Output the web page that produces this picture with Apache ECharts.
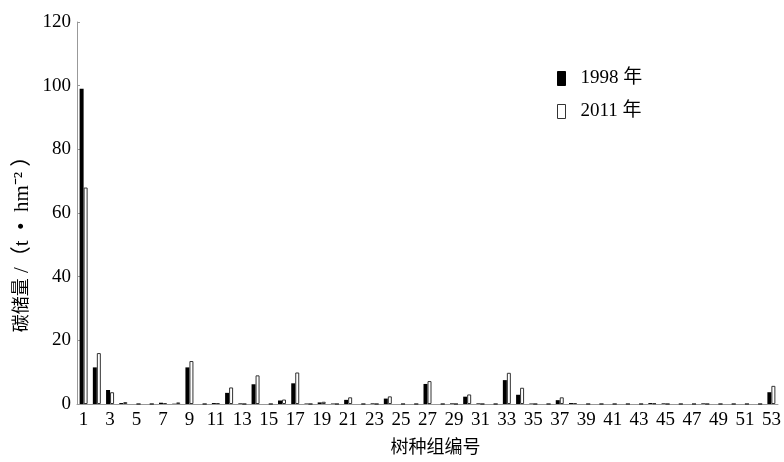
<!DOCTYPE html>
<html>
<head>
<meta charset="utf-8">
<script src="https://cdn.jsdelivr.net/npm/echarts@6/dist/echarts.min.js"></script>
<style>html,body{margin:0;padding:0;background:#fff;}#c{width:784px;height:462px;}</style>
</head>
<body>
<div id="c"></div>
<script>
var categories = ['1','2','3','4','5','6','7','8','9','10','11','12','13','14','15','16','17','18','19','20','21','22','23','24','25','26','27','28','29','30','31','32','33','34','35','36','37','38','39','40','41','42','43','44','45','46','47','48','49','50','51','52','53'];
var values1998 = [99, 11.5, 4.4, 0.3, 0, 0, 0.4, 0.1, 11.5, 0, 0.3, 3.5, 0.2, 6.2, 0, 1.1, 6.5, 0.15, 0.5, 0.15, 1.3, 0, 0.2, 1.7, 0, 0, 6.3, 0, 0.2, 2.3, 0.2, 0, 7.5, 2.9, 0.15, 0, 1.2, 0.3, 0, 0, 0, 0, 0, 0.3, 0.2, 0, 0, 0.2, 0, 0, 0, 0, 3.7];
var values2011 = [68, 16, 3.7, 0.6, 0, 0, 0.3, 0.5, 13.5, 0, 0.3, 5.2, 0, 9.0, 0, 1.4, 9.9, 0, 0.7, 0, 2.1, 0, 0, 2.4, 0, 0, 7.2, 0, 0, 3.0, 0, 0, 9.8, 5.1, 0, 0, 2.1, 0.3, 0, 0, 0, 0, 0, 0.2, 0, 0, 0, 0, 0, 0, 0, 0, 5.7];
var seriesNames = ['1998 年', '2011 年'];
var yTitleMain = '碳储量';
var yTitleUnit = ' /（t  •  hm⁻² ）';
var xTitle = '树种组编号';

var FONT = '"Liberation Serif", "Noto Sans CJK SC", serif';
var chart = echarts.init(document.getElementById('c'));
chart.setOption({
  animation: false,
  backgroundColor: '#fff',
  grid: {left: 77, right: 6, top: 22, bottom: 55},
  legend: {
    orient: 'vertical', left: 557, top: 69, padding: 0, itemWidth: 8, itemHeight: 14, itemGap: 14,
    textStyle: {fontFamily: FONT, fontSize: 19, color: '#000', padding: [0, 0, 0, 10]},
    data: [
      {name: seriesNames[0], icon: 'rect', itemStyle: {color: '#000', borderColor: '#000', borderWidth: 1}},
      {name: seriesNames[1], icon: 'rect', itemStyle: {color: '#fff', borderColor: '#333', borderWidth: 1}}
    ]
  },
  xAxis: {
    type: 'category', data: categories,
    name: xTitle, nameLocation: 'middle', nameGap: 35,
    nameTextStyle: {fontFamily: FONT, fontSize: 18, color: '#000', padding: [0, 0, 0, 16]},
    axisLine: {lineStyle: {color: '#999', width: 1}},
    axisTick: {inside: true, length: 4, lineStyle: {color: '#999'}},
    axisLabel: {interval: 1, margin: 7, fontFamily: FONT, fontSize: 19, color: '#000'}
  },
  yAxis: {
    type: 'value', min: 0, max: 120, interval: 20,
    axisLine: {show: true, lineStyle: {color: '#999', width: 1}},
    axisTick: {show: true, inside: true, length: 3, lineStyle: {color: '#999'}},
    splitLine: {show: false},
    axisLabel: {margin: 6, fontFamily: FONT, fontSize: 19, color: '#000'}
  },
  graphic: [{
    type: 'text', x: 22, y: 239, rotation: Math.PI / 2,
    style: {
      text: '{a|' + yTitleMain + '}{b|' + yTitleUnit + '}',
      rich: {
        a: {fontFamily: FONT, fontSize: 18, fill: '#000', color: '#000'},
        b: {fontFamily: FONT, fontSize: 21, fill: '#000', color: '#000'}
      },
      fontFamily: FONT, fontSize: 18, fill: '#000', align: 'center', verticalAlign: 'middle',
      textAlign: 'center', textVerticalAlign: 'middle'
    }
  }],
  series: [
    {name: seriesNames[0], type: 'bar', data: values1998, barWidth: 4, barGap: '0%',
     itemStyle: {color: '#000'}},
    {name: seriesNames[1], type: 'bar', data: values2011, barWidth: 4, barGap: '0%',
     itemStyle: {color: '#fff', borderColor: '#333', borderWidth: 1}}
  ]
});
</script>
</body>
</html>
